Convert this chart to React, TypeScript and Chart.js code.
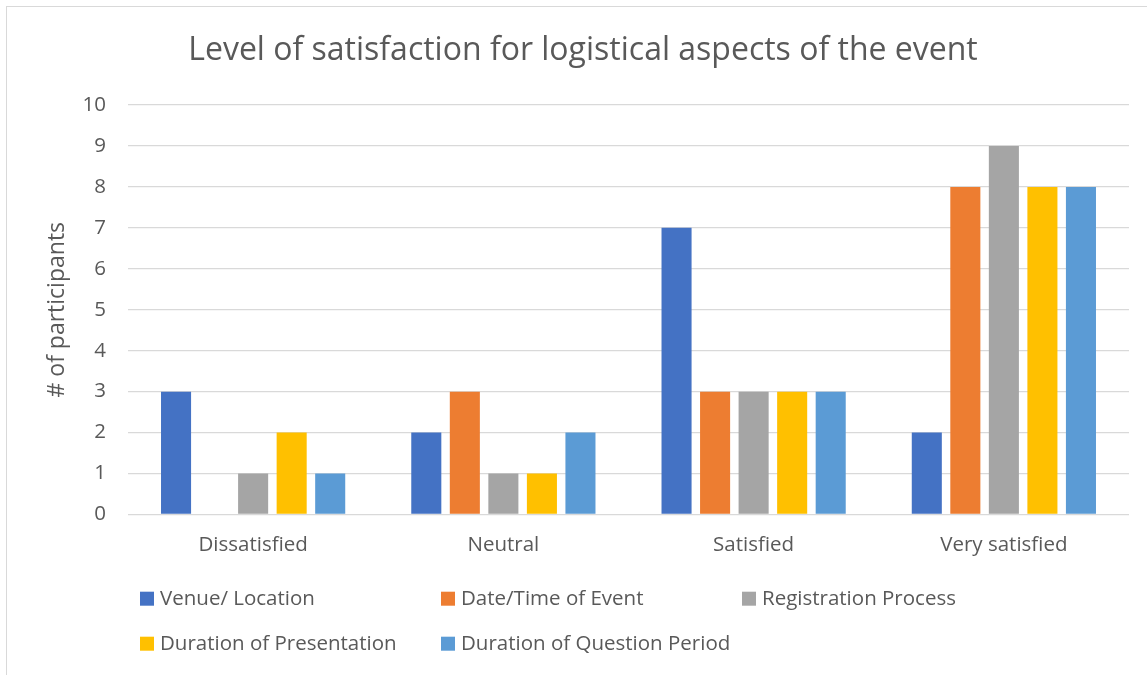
import React, { useEffect, useRef } from "react";
import { Chart, registerables } from "chart.js";

Chart.register(...registerables);

const categories = ["Dissatisfied", "Neutral", "Satisfied", "Very satisfied"];
const seriesNames = [
  "Venue/ Location",
  "Date/Time of Event",
  "Registration Process",
  "Duration of Presentation",
  "Duration of Question Period",
];
const venue = [3, 2, 7, 2];
const dateTime = [0, 3, 3, 8];
const registration = [1, 1, 3, 9];
const presentation = [2, 1, 3, 8];
const questionPeriod = [1, 2, 3, 8];
const colors = ["#4472C4", "#ED7D31", "#A5A5A5", "#FFC000", "#5B9BD5"];
const yTicks = [0, 1, 2, 3, 4, 5, 6, 7, 8, 9, 10];
const titleText = "Level of satisfaction for logistical aspects of the event";
const yTitle = "# of participants";

const FONT = "'Open Sans', sans-serif";
const TEXT = "#595959";

const overlayPlugin = {
  id: "overlay",
  afterDraw(chart: any) {
    const ctx = chart.ctx;
    ctx.save();
    ctx.fillStyle = TEXT;
    ctx.textBaseline = "middle";
    ctx.textAlign = "center";
    ctx.font = `32px ${FONT}`;
    ctx.fillText(titleText, 576, 44);
    // legend
    ctx.font = `20.5px ${FONT}`;
    ctx.textAlign = "left";
    const cols = [133, 434, 735];
    const rows = [584.7, 629.7];
    chart.data.datasets.forEach((ds: any, i: number) => {
      const x = cols[i % 3];
      const y = rows[Math.floor(i / 3)];
      ctx.fillStyle = ds.backgroundColor;
      ctx.fillRect(x, y, 14, 14);
      ctx.fillStyle = TEXT;
      ctx.fillText(ds.label, x + 20, y + 7.5);
    });
    ctx.restore();
  },
};

export default function App() {
  const ref = useRef<HTMLCanvasElement>(null);
  useEffect(() => {
    if (!ref.current) return;
    const values = [venue, dateTime, registration, presentation, questionPeriod];
    const chart = new Chart(ref.current, {
      type: "bar",
      data: {
        labels: categories,
        datasets: seriesNames.map((name, i) => ({
          label: name,
          data: values[i],
          backgroundColor: colors[i],
          borderWidth: 0,
          categoryPercentage: 0.77,
          barPercentage: 0.78,
        })),
      },
      options: {
        animation: false,
        responsive: false,
        maintainAspectRatio: false,
        layout: { padding: { top: 98, right: 18, left: 0, bottom: 100.5 } },
        plugins: {
          legend: { display: false },
          title: { display: false },
          tooltip: { enabled: false },
        },
        scales: {
          x: {
            grid: { display: false, drawTicks: false },
            border: { display: false },
            ticks: {
              color: TEXT,
              font: { family: FONT, size: 20.5 },
              padding: 18,
            },
            afterFit(scale: any) {
              scale.height = 60;
            },
          },
          y: {
            min: 0,
            max: 10,
            afterBuildTicks(scale: any) {
              scale.ticks = yTicks.map((v) => ({ value: v }));
            },
            grid: { color: "#D9D9D9", lineWidth: 1.3, drawTicks: false },
            border: { display: false },
            ticks: {
              color: TEXT,
              font: { family: FONT, size: 20.5 },
              padding: 22,
            },
            title: {
              display: true,
              text: yTitle,
              color: TEXT,
              font: { family: FONT, size: 23 },
              padding: { top: 37, bottom: 0 },
            },
            afterFit(scale: any) {
              scale.width = 121;
            },
          },
        },
      },
      plugins: [overlayPlugin],
    });
    return () => chart.destroy();
  }, []);
  return (
    <div
      style={{
        position: "absolute",
        left: 6,
        top: 6,
        width: 1150,
        height: 680,
        border: "1px solid #D9D9D9",
        background: "#fff",
      }}
    >
      <canvas ref={ref} width={1140} height={668} style={{ display: "block" }} />
    </div>
  );
}
